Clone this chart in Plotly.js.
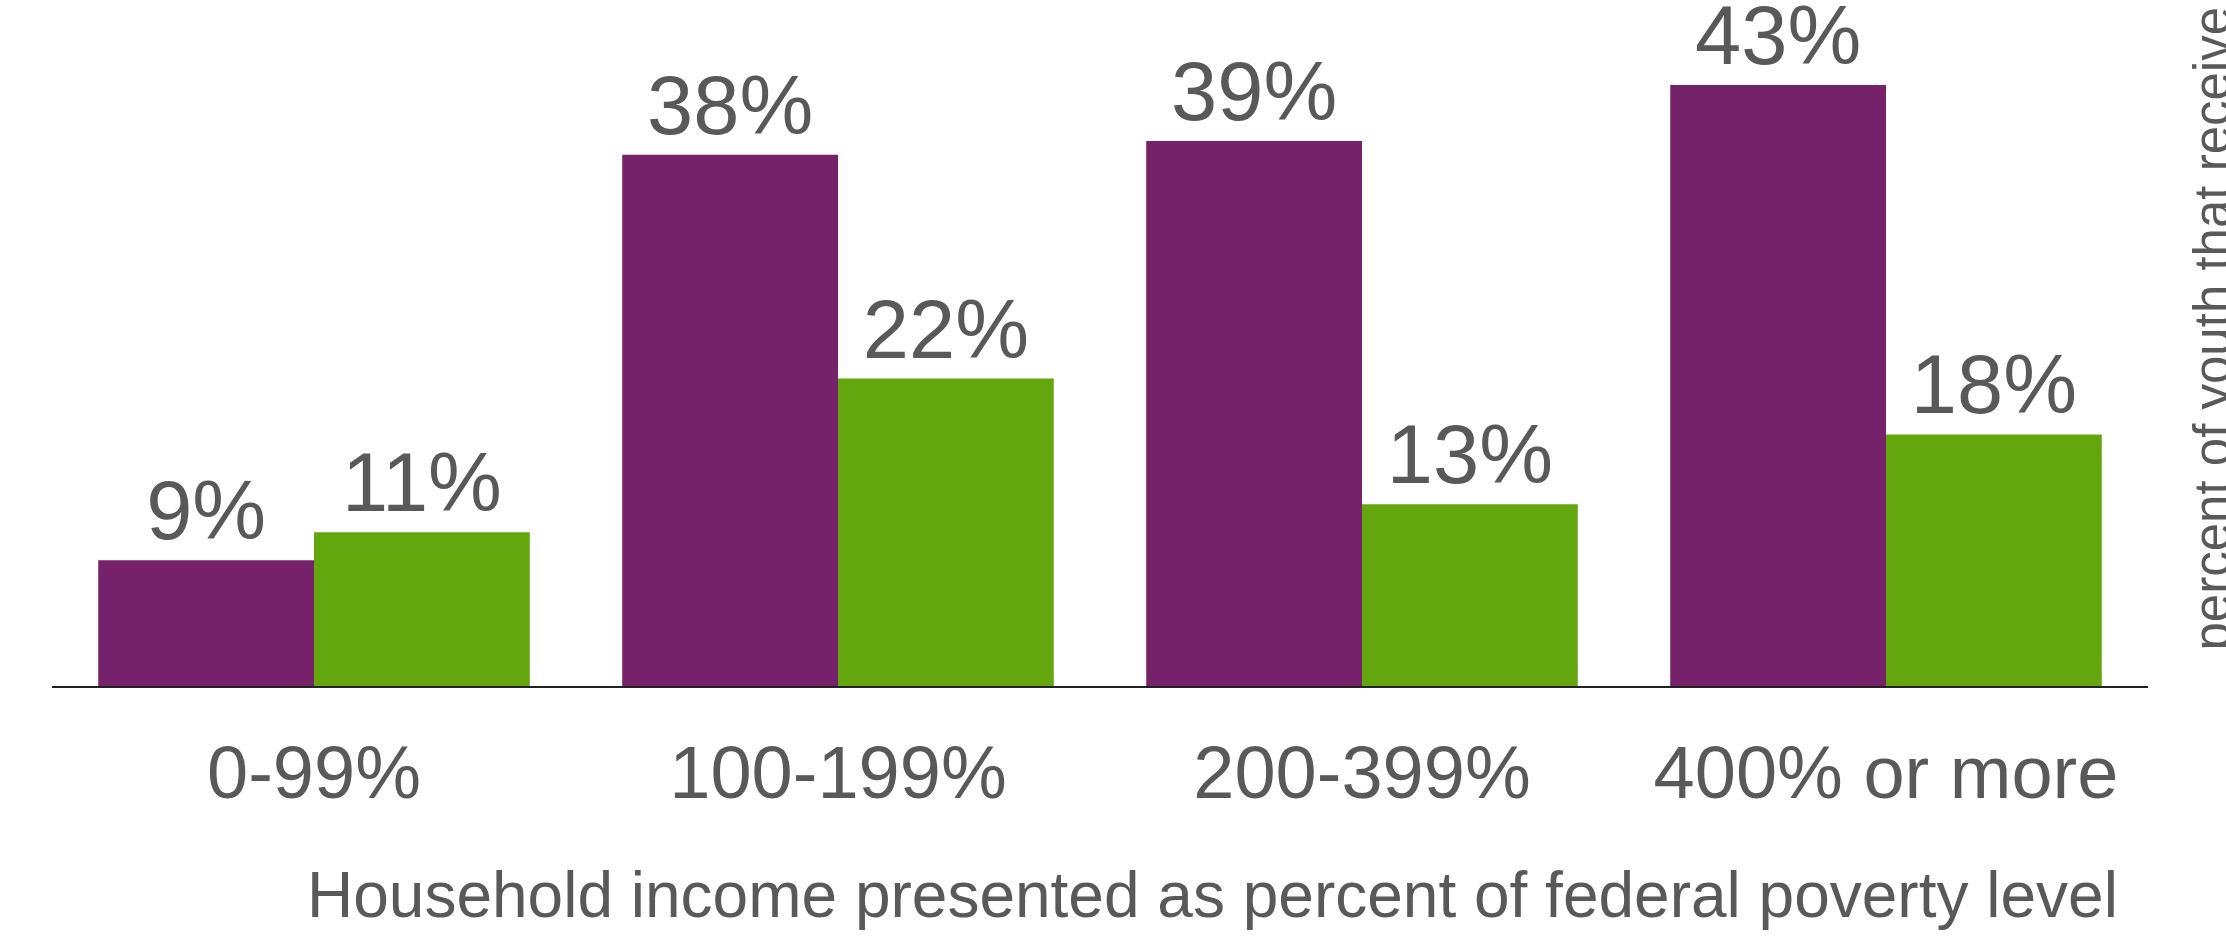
<!DOCTYPE html>
<html>
<head>
<meta charset="utf-8">
<script src="https://cdn.plot.ly/plotly-3.0.1.min.js"></script>
<style>
  html, body { margin: 0; padding: 0; background: #ffffff; }
  #chart { width: 2226px; height: 936px; }
</style>
</head>
<body>
<div id="chart"></div>
<script>
// ---- data ----
const categories = ['0-99%', '100-199%', '200-399%', '400% or more'];
const purpleValues = [9, 38, 39, 43];
const greenValues = [11, 22, 13, 18];
const xAxisTitle = 'Household income presented as percent of federal poverty level';
const yAxisTitle = 'percent of youth that receive';

// ---- styling ----
const purple = '#75226A';
const green = '#63A60D';
const textGrey = '#595959';
const fontFamily = '"Liberation Sans", Arial, sans-serif';

const W = 2226, H = 936;
const margin = {l: 52, r: 78, t: 0, b: 250};
const plotW = W - margin.l - margin.r;
const plotH = H - margin.t - margin.b;
const pxPerUnit = 13.977;
const yTop = plotH / pxPerUnit;

function barTrace(name, values, color) {
  return {
    type: 'bar',
    name: name,
    x: categories,
    y: values,
    marker: {color: color, line: {width: 0}},
    texttemplate: '%{y}%',
    textposition: 'outside',
    textfont: {family: fontFamily, size: 83, color: textGrey},
    cliponaxis: false,
    constraintext: 'none',
    hoverinfo: 'skip'
  };
}

const data = [
  barTrace('Series 1', purpleValues, purple),
  barTrace('Series 2', greenValues, green)
];

function px2paperX(px) { return (px - margin.l) / plotW; }
function px2paperY(py) { return (margin.t + plotH - py) / plotH; }

const layout = {
  width: W,
  height: H,
  margin: margin,
  paper_bgcolor: '#ffffff',
  plot_bgcolor: '#ffffff',
  showlegend: false,
  barmode: 'group',
  bargap: 0.1765,
  bargroupgap: 0,
  font: {family: fontFamily, color: textGrey},
  xaxis: {
    type: 'category',
    showline: true,
    linecolor: '#222222',
    linewidth: 2,
    ticks: '',
    showgrid: false,
    zeroline: false,
    tickfont: {family: fontFamily, size: 74, color: textGrey},
    ticklabelstandoff: 21,
    fixedrange: true
  },
  yaxis: {
    range: [0, yTop],
    visible: false,
    showgrid: false,
    zeroline: false,
    fixedrange: true
  },
  annotations: [
    {
      text: xAxisTitle,
      xref: 'paper', yref: 'paper',
      x: px2paperX(1212), y: px2paperY(857),
      xanchor: 'center', yanchor: 'top',
      showarrow: false,
      font: {family: fontFamily, size: 64, color: textGrey}
    },
    {
      text: yAxisTitle,
      xref: 'paper', yref: 'paper',
      x: px2paperX(2181), y: px2paperY(653),
      xanchor: 'left', yanchor: 'bottom',
      textangle: -90,
      showarrow: false,
      font: {family: fontFamily, size: 51, color: textGrey}
    }
  ]
};

Plotly.newPlot('chart', data, layout, {displayModeBar: false, staticPlot: true});
</script>
</body>
</html>
